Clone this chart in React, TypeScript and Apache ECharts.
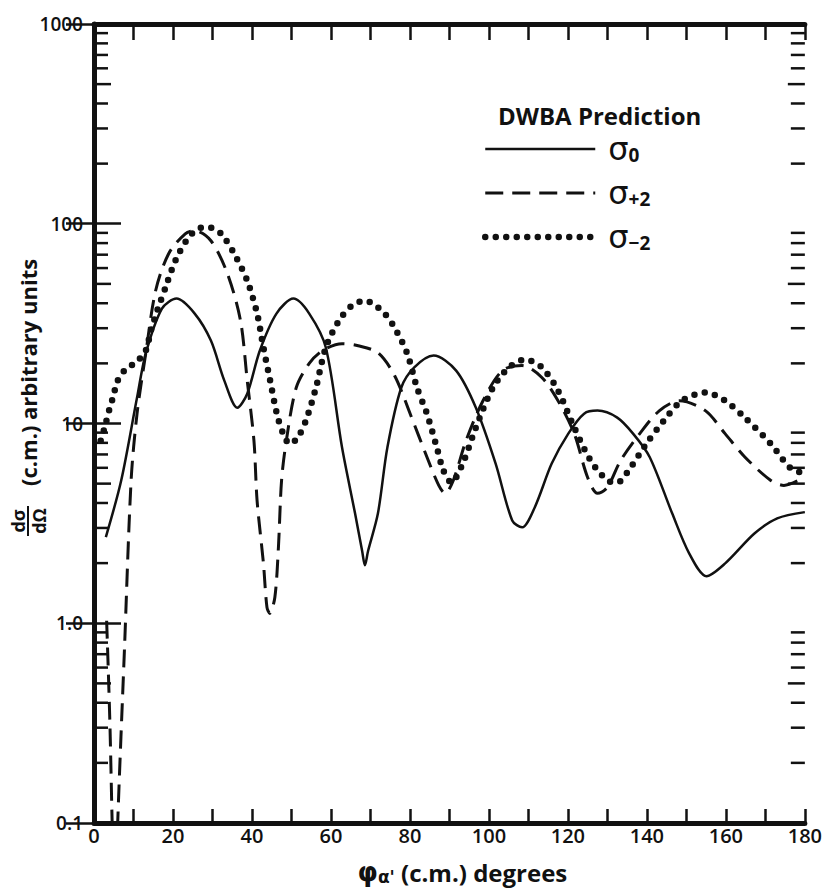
import React, { useEffect, useRef } from 'react';
import * as echarts from 'echarts';

// angle (deg, c.m.) vs dσ/dΩ (arbitrary units)
const sigma0: [number, number][] = [
  [3.0, 2.7], [6.9, 5.2], [10.9, 13.5], [13.1, 22.4], [17.2, 37.6], [20.9, 42.2], [25.5, 35.5],
  [29.6, 26.0], [33.0, 16.4], [36.3, 12.0], [38.8, 14.1], [42.0, 23.2], [46.2, 35.5], [50.5, 42.2],
  [54.5, 35.5], [58.7, 24.0], [62.8, 7.6], [66.1, 3.55], [67.9, 2.3], [68.6, 1.95], [69.4, 2.3],
  [71.9, 3.55], [74.3, 7.6], [77.8, 15.1], [81.1, 19.1], [86.0, 21.9], [91.7, 18.4], [96.7, 12.0],
  [101.7, 6.3], [105.9, 3.27], [108.4, 3.02], [111.6, 3.8], [115.9, 6.3], [120.1, 8.9], [124.1, 11.2],
  [127.5, 11.6], [132.5, 10.7], [136.5, 8.9], [140.7, 6.8], [146.4, 3.55], [150.7, 2.24], [155.1, 1.72],
  [159.9, 2.0], [167.3, 2.82], [173.0, 3.35], [180.0, 3.6],
];

const sigmaPlus2: [number, number][] = [
  [3.2, 1.03], [4.0, 0.33], [4.6, 0.1], [5.3, 0.03], [6.0, 0.1], [7.7, 0.73], [9.4, 5.2], [10.9, 11.2],
  [13.1, 22.4], [15.6, 46.2], [18.9, 70.8], [23.1, 89.1], [25.5, 92.3], [29.6, 82.2], [33.8, 56.2],
  [37.1, 32.7], [38.8, 16.4], [40.5, 8.2], [41.3, 4.1], [42.9, 2.0], [43.8, 1.2], [44.5, 1.12],
  [45.8, 1.35], [46.7, 2.4], [47.5, 5.2], [48.7, 8.2], [51.2, 15.1], [54.5, 20.0], [57.9, 23.2],
  [62.8, 25.1], [66.9, 24.5], [71.9, 22.6], [76.1, 17.4], [80.2, 11.0], [84.3, 6.8], [87.3, 4.9],
  [88.9, 4.47], [91.0, 5.2], [94.2, 8.2], [98.5, 13.0], [103.4, 18.4], [108.4, 19.5], [113.4, 17.0],
  [117.5, 13.0], [121.6, 8.9], [125.0, 5.37], [127.5, 4.47], [130.0, 4.79], [133.3, 6.5], [138.2, 8.9],
  [143.2, 11.6], [148.2, 13.0], [154.8, 11.6], [159.8, 8.9], [164.8, 6.8], [171.3, 5.2], [174.7, 4.9],
  [180.0, 5.4],
];

const sigmaMinus2: [number, number][] = [
  [1.7, 8.2], [2.7, 9.55], [4.0, 12.0], [4.8, 13.5], [6.0, 16.4], [8.1, 18.8], [10.6, 20.2], [13.1, 23.2],
  [14.4, 29.2], [16.0, 36.7], [18.1, 47.9], [20.6, 65.3], [23.9, 85.1], [27.2, 95.5], [29.7, 95.5],
  [32.2, 89.1], [35.5, 70.8], [38.8, 51.9], [41.3, 35.5], [42.9, 24.0], [44.6, 16.4], [46.3, 11.2],
  [47.9, 8.9], [49.6, 7.9], [51.6, 8.5], [53.7, 10.4], [56.2, 15.1], [58.7, 24.0], [62.0, 32.7],
  [65.3, 38.9], [68.6, 41.2], [73.1, 36.3], [76.1, 30.2], [79.3, 22.4], [81.8, 15.1], [84.3, 11.2],
  [86.8, 7.6], [88.5, 5.8], [90.5, 5.07], [93.5, 6.4], [96.7, 9.55], [101.0, 15.1], [105.1, 19.1],
  [109.2, 20.9], [113.4, 19.1], [117.5, 14.6], [121.6, 9.55], [125.8, 6.5], [130.0, 5.19], [132.5, 5.07],
  [135.8, 6.0], [139.9, 7.94], [144.9, 10.7], [148.9, 13.0], [154.8, 14.3], [159.8, 13.0], [164.8, 10.7],
  [171.3, 7.94], [176.3, 6.0], [180.0, 5.6],
];

const seriesNames = ['σ0', 'σ+2', 'σ-2'];
const yTickLabels: Record<string, string> = { '0.1': '0.1', '1': '1.0', '10': '10', '100': '100', '1000': '1000' };
const minorMultipliers = [2, 3, 4, 5, 6, 7, 8, 9];
const decades = [0.1, 1, 10, 100];

const FONT = "'Open Sans', 'DejaVu Sans', sans-serif";
const INK = '#111';

const solidStyle = { color: INK, width: 2.5 };
const dashedStyle = { color: INK, width: 3, type: [18, 9] };
const dottedStyle = { color: INK, width: 6.5, type: [0, 10.5], cap: 'round' };

export default function App() {
  const ref = useRef<HTMLDivElement>(null);

  useEffect(() => {
    if (!ref.current) return;
    const chart = echarts.init(ref.current, null, { renderer: 'svg' });

    const minorTicks: number[][] = [];
    decades.forEach((d) => minorMultipliers.forEach((m) => minorTicks.push([0, m * d, m])));

    const yLabel = (v: number) => {
      const key = String(Number(v.toPrecision(6)));
      return yTickLabels[key] ?? '';
    };

    const tickSeries = (side: 'left' | 'right') => ({
      type: 'custom',
      silent: true,
      clip: false,
      xAxisIndex: 0,
      yAxisIndex: 0,
      z: 5,
      data: minorTicks,
      renderItem: (params: any, api: any) => {
        const v = api.value(1);
        const m = api.value(2);
        const len = m === 5 ? 17 : 14;
        const p = api.coord([side === 'left' ? 0 : 180, v]);
        const x1 = side === 'left' ? p[0] : p[0] - len;
        return {
          type: 'line',
          shape: { x1, y1: p[1], x2: x1 + len, y2: p[1] },
          style: { stroke: INK, lineWidth: 2.5 },
        };
      },
    });

    const option: any = {
      animation: false,
      backgroundColor: '#fff',
      title: {
        text: 'DWBA Prediction',
        left: 493,
        top: 98,
        textStyle: { fontFamily: FONT, fontSize: 24, fontWeight: 700, color: INK },
      },
      legend: {
        orient: 'vertical',
        left: 477,
        top: 128,
        itemWidth: 110,
        itemHeight: 16,
        itemGap: 12,
        selectedMode: false,
        itemStyle: { color: 'transparent', borderColor: 'transparent', borderWidth: 0 },
        data: [
          { name: seriesNames[0], lineStyle: solidStyle },
          { name: seriesNames[1], lineStyle: dashedStyle },
          { name: seriesNames[2], lineStyle: dottedStyle },
        ],
        formatter: (name: string) => {
          const sub = name === 'σ0' ? '0' : name === 'σ+2' ? '+2' : '−2';
          return `{s|σ}{b|${sub}}`;
        },
        textStyle: {
          color: INK,
          rich: {
            s: { fontFamily: 'DejaVu Sans', fontSize: 32, lineHeight: 30, padding: [0, 0, 0, 8], verticalAlign: 'middle', color: INK },
            b: { fontFamily: FONT, fontSize: 19, fontWeight: 700, verticalAlign: 'bottom', lineHeight: 18, color: INK },
          },
        },
      },
      grid: { left: 94, right: 7, top: 24, bottom: 67 },
      xAxis: [
        {
          type: 'value',
          min: 0,
          max: 180,
          interval: 10,
          position: 'bottom',
          axisLine: { lineStyle: { color: INK, width: 5 } },
          axisTick: { inside: true, length: 14, lineStyle: { color: INK, width: 2.5 } },
          splitLine: { show: false },
          axisLabel: {
            formatter: (v: number) => (v % 20 === 0 ? String(v) : ''),
            fontFamily: FONT,
            fontSize: 20,
            fontWeight: 600,
            color: INK,
            margin: 2,
          },
          name: "{p|φ}{a|α'}{t| (c.m.) degrees}",
          nameLocation: 'middle',
          nameGap: 36,
          nameTextStyle: {
            padding: [0, 0, 0, 26],
            rich: {
              p: { fontFamily: 'DejaVu Sans', fontSize: 26, fontWeight: 700, color: INK, verticalAlign: 'middle', lineHeight: 26 },
              a: { fontFamily: 'DejaVu Sans', fontSize: 17, fontWeight: 700, color: INK, verticalAlign: 'bottom', lineHeight: 16 },
              t: { fontFamily: FONT, fontSize: 24, fontWeight: 700, color: INK, verticalAlign: 'middle', lineHeight: 26 },
            },
          },
        },
        {
          type: 'value',
          min: 0,
          max: 180,
          interval: 10,
          position: 'top',
          axisLine: { lineStyle: { color: INK, width: 5 } },
          axisTick: { inside: true, length: 16, lineStyle: { color: INK, width: 2.5 } },
          axisLabel: { show: false },
          splitLine: { show: false },
        },
      ],
      yAxis: [
        {
          type: 'log',
          logBase: 10,
          min: 0.1,
          max: 1000,
          position: 'left',
          axisLine: { lineStyle: { color: INK, width: 5 } },
          axisTick: { inside: true, length: 27, lineStyle: { color: INK, width: 2.5 } },
          splitLine: { show: false },
          axisLabel: {
            formatter: yLabel,
            fontFamily: FONT,
            fontSize: 19,
            fontWeight: 600,
            color: INK,
            margin: 11,
          },
        },
        {
          type: 'log',
          logBase: 10,
          min: 0.1,
          max: 1000,
          position: 'right',
          axisLine: { lineStyle: { color: INK, width: 4 } },
          axisTick: { inside: true, length: 28, lineStyle: { color: INK, width: 2.5 } },
          axisLabel: { show: false },
          splitLine: { show: false },
        },
      ],
      graphic: [
        {
          type: 'group',
          x: 28,
          y: 538,
          rotation: Math.PI / 2,
          children: [
            { type: 'text', x: 17, y: -10, style: { text: 'dσ', fontFamily: FONT, fontSize: 18, fontWeight: 700, fill: INK, align: 'center', verticalAlign: 'middle' } },
            { type: 'line', shape: { x1: 2, y1: 0, x2: 32, y2: 0 }, style: { stroke: INK, lineWidth: 2 } },
            { type: 'text', x: 17, y: 11, style: { text: 'dΩ', fontFamily: FONT, fontSize: 18, fontWeight: 700, fill: INK, align: 'center', verticalAlign: 'middle' } },
            { type: 'text', x: 52, y: 0, style: { text: '(c.m.) arbitrary units', fontFamily: FONT, fontSize: 22, fontWeight: 700, fill: INK, align: 'left', verticalAlign: 'middle' } },
          ],
        },
      ],
      series: [
        {
          name: seriesNames[0],
          type: 'line',
          data: sigma0,
          smooth: 0.3,
          symbol: 'none',
          clip: true,
          lineStyle: solidStyle,
          itemStyle: { color: INK },
        },
        {
          name: seriesNames[1],
          type: 'line',
          data: sigmaPlus2,
          smooth: 0.3,
          symbol: 'none',
          clip: true,
          lineStyle: dashedStyle,
          itemStyle: { color: INK },
        },
        {
          name: seriesNames[2],
          type: 'line',
          data: sigmaMinus2,
          smooth: 0.3,
          symbol: 'none',
          clip: true,
          lineStyle: dottedStyle,
          itemStyle: { color: INK },
        },
        tickSeries('left'),
        tickSeries('right'),
      ],
    };

    chart.setOption(option);
    return () => chart.dispose();
  }, []);

  return (
    <div
      ref={ref}
      style={{ position: 'fixed', left: 0, top: 0, width: 825, height: 890, background: '#fff' }}
    />
  );
}
